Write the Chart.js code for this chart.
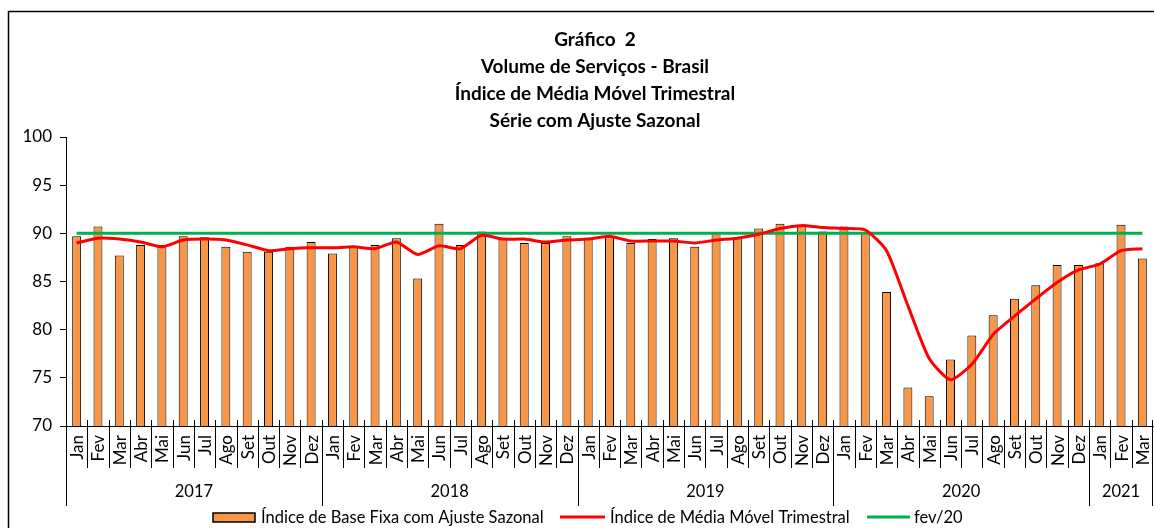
<!DOCTYPE html>
<html>
<head>
<meta charset="utf-8">
<script src="https://cdn.jsdelivr.net/npm/chart.js@4.4.1/dist/chart.umd.min.js"></script>
<style>
  html, body { margin: 0; padding: 0; background: #fff; }
  #wrap { width: 1154px; height: 528px; position: relative; }
</style>
</head>
<body>
<div id="wrap"><canvas id="chartServicos"></canvas></div>
<script>
// meses e anos do eixo
const nomesMeses = ["Jan", "Fev", "Mar", "Abr", "Mai", "Jun", "Jul", "Ago", "Set", "Out", "Nov", "Dez"];
const anos = ["2017", "2018", "2019", "2020", "2021"];
const mesesPorAno = [12, 12, 12, 12, 3];

// índice de base fixa com ajuste sazonal (barras)
const indiceBaseFixa = [
    89.7, 90.7, 87.7, 88.8, 88.8, 89.7, 89.6, 88.6, 88.1, 88.1, 88.6, 89.1,
    87.9, 88.6, 88.8, 89.5, 85.3, 91.0, 88.8, 90.2, 89.4, 89.0, 89.0, 89.7,
    89.5, 89.6, 89.0, 89.4, 89.5, 88.6, 90.1, 89.6, 90.5, 91.0, 90.9, 90.2,
    90.7, 90.0, 83.9, 74.0, 73.1, 76.9, 79.4, 81.5, 83.2, 84.6, 86.7, 86.7,
    86.9, 90.9, 87.4
];

// índice de média móvel trimestral (linha vermelha)
const mediaMovel = [
    89.0, 89.5, 89.4, 89.1, 88.6, 89.3, 89.4, 89.3, 88.8, 88.2, 88.4, 88.5,
    88.5, 88.6, 88.4, 89.1, 87.8, 88.7, 88.4, 89.8, 89.4, 89.4, 89.1, 89.3,
    89.4, 89.7, 89.2, 89.2, 89.2, 89.0, 89.3, 89.5, 89.9, 90.5, 90.8, 90.6,
    90.5, 90.35, 88.2, 82.5, 77.0, 74.8, 76.4, 79.5, 81.4, 83.2, 84.9, 86.2,
    86.8, 88.2, 88.4
];

// nível de fev/20 (linha verde)
const nivelFev20 = 90.0;

const yMin = 70, yMax = 100, yPasso = 5;

let labels = [];
mesesPorAno.forEach((n, i) => {
    for (let m = 0; m < n; m++) labels.push(nomesMeses[m]);
});
const linhaFev20 = labels.map(() => nivelFev20);

const fonte = "Lato, 'Open Sans', sans-serif";
const laranja = "#F79646";
const vermelho = "#FF0000";
const verde = "#00B050";

const extrasPlugin = {
    id: "extras",
    beforeDraw(chart) {
        const ctx = chart.ctx;
        ctx.save();
        ctx.fillStyle = "#fff";
        ctx.fillRect(0, 0, chart.width, chart.height);
        ctx.strokeStyle = "#000";
        ctx.lineWidth = 1.5;
        ctx.strokeRect(8.5, 11.5, chart.width + 20, chart.height + 20);
        ctx.restore();
    },
    afterDraw(chart) {
        const ctx = chart.ctx;
        const x = chart.scales.x;
        const area = chart.chartArea;
        const passo = x.getPixelForValue(1) - x.getPixelForValue(0);
        ctx.save();

        // título
        ctx.fillStyle = "#000";
        ctx.textAlign = "center";
        ctx.textBaseline = "middle";
        ctx.font = "bold 19px " + fonte;
        const titulo = ["Gráfico  2", "Volume de Serviços - Brasil", "Índice de Média Móvel Trimestral", "Série com Ajuste Sazonal"];
        titulo.forEach((t, i) => ctx.fillText(t, 595, 40 + i * 27));

        // meses
        ctx.strokeStyle = "#000";
        ctx.lineWidth = 1;
        ctx.font = "17px " + fonte;
        labels.forEach((lab, i) => {
            const cx = x.getPixelForValue(i);
            const left = Math.round(cx - passo / 2) + 0.5;
            ctx.beginPath();
            ctx.moveTo(left, area.bottom - 6);
            ctx.lineTo(left, area.bottom + 42);
            ctx.stroke();
            ctx.save();
            ctx.translate(cx, area.bottom + 9);
            ctx.rotate(-Math.PI / 2);
            ctx.textAlign = "right";
            ctx.textBaseline = "middle";
            ctx.fillText(lab, 0, 1);
            ctx.restore();
        });

        // anos
        let inicio = 0;
        ctx.textAlign = "center";
        ctx.textBaseline = "middle";
        ctx.font = "16.5px " + fonte;
        mesesPorAno.forEach((n, k) => {
            const x0 = x.getPixelForValue(inicio) - passo / 2;
            const x1 = x.getPixelForValue(inicio + n - 1) + passo / 2;
            ctx.beginPath();
            ctx.moveTo(Math.round(x0) + 0.5, area.bottom);
            ctx.lineTo(Math.round(x0) + 0.5, area.bottom + 80);
            ctx.stroke();
            if (k === mesesPorAno.length - 1) {
                ctx.beginPath();
                ctx.moveTo(Math.round(x1) - 0.5, area.bottom - 6);
                ctx.lineTo(Math.round(x1) - 0.5, area.bottom + 80);
                ctx.stroke();
            }
            ctx.fillText(anos[k], (x0 + x1) / 2, area.bottom + 66);
            inicio += n;
        });

        // legenda
        const ly = 518;
        ctx.font = "16.5px " + fonte;
        ctx.textAlign = "left";
        ctx.fillStyle = laranja;
        ctx.fillRect(213, ly - 5, 42, 9);
        ctx.strokeStyle = "#000";
        ctx.lineWidth = 1.5;
        ctx.strokeRect(213, ly - 5, 42, 9);
        ctx.fillStyle = "#000";
        ctx.fillText("Índice de Base Fixa com Ajuste Sazonal", 261, ly);
        ctx.lineWidth = 3;
        ctx.strokeStyle = vermelho;
        ctx.beginPath(); ctx.moveTo(560, ly - 1); ctx.lineTo(605, ly - 1); ctx.stroke();
        ctx.fillText("Índice de Média Móvel Trimestral", 610, ly);
        ctx.strokeStyle = verde;
        ctx.beginPath(); ctx.moveTo(867, ly - 1); ctx.lineTo(910, ly - 1); ctx.stroke();
        ctx.fillText("fev/20", 914, ly);
        ctx.restore();
    }
};

new Chart("chartServicos", {
    type: "bar",
    data: {
        labels: labels,
        datasets: [{
            label: "Índice de Base Fixa com Ajuste Sazonal",
            data: indiceBaseFixa,
            backgroundColor: laranja,
            borderColor: "#000",
            borderWidth: 1,
            barPercentage: 0.42,
            categoryPercentage: 1,
            order: 2
        }, {
            type: "line",
            label: "Índice de Média Móvel Trimestral",
            data: mediaMovel,
            borderColor: vermelho,
            borderWidth: 3,
            pointRadius: 0,
            tension: 0.2,
            fill: false,
            order: 0
        }, {
            type: "line",
            label: "fev/20",
            data: linhaFev20,
            borderColor: verde,
            borderWidth: 3,
            pointRadius: 0,
            fill: false,
            order: 1
        }]
    },
    options: {
        responsive: true,
        maintainAspectRatio: false,
        animation: false,
        layout: { padding: { top: 137, right: 1, left: 0, bottom: 0 } },
        plugins: {
            legend: { display: false },
            title: { display: false },
            tooltip: { enabled: false }
        },
        scales: {
            x: {
                offset: true,
                grid: { display: false },
                border: { display: true, color: "#000", width: 1 },
                ticks: { display: false },
                afterFit: function (scale) { scale.height = 102; }
            },
            y: {
                min: yMin,
                max: yMax,
                border: { display: true, color: "#000", width: 1 },
                grid: { display: true, drawOnChartArea: false, drawTicks: true, tickLength: 6, color: "#000" },
                ticks: {
                    stepSize: yPasso,
                    color: "#000",
                    padding: 8,
                    font: { size: 17, family: fonte }
                },
                afterFit: function (scale) { scale.width = 66; }
            }
        }
    },
    plugins: [extrasPlugin]
});
</script>
</body>
</html>
